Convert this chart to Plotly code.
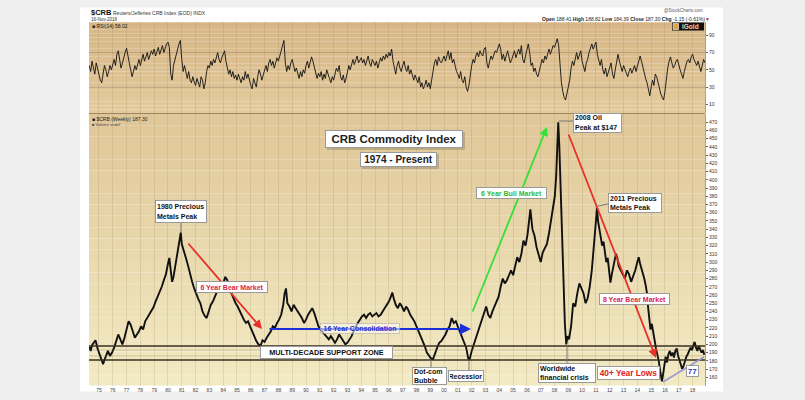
import plotly.graph_objects as go

# ---------------- data ----------------
price_points = [
    (1974.30, 197), (1974.40, 192), (1974.50, 199), (1974.60, 202), (1974.75, 205), (1974.90, 195),
    (1975.05, 188), (1975.20, 182), (1975.30, 176), (1975.40, 181), (1975.50, 186), (1975.65, 192),
    (1975.80, 186), (1975.95, 190), (1976.10, 196), (1976.25, 203), (1976.40, 212),
    (1976.55, 206), (1976.70, 200), (1976.85, 208), (1977.00, 218), (1977.15, 228),
    (1977.30, 224), (1977.45, 215), (1977.60, 208), (1977.75, 212), (1977.90, 216),
    (1978.05, 222), (1978.20, 218), (1978.35, 228), (1978.50, 232), (1978.65, 236),
    (1978.80, 240), (1978.95, 245), (1979.10, 252), (1979.25, 258), (1979.40, 262),
    (1979.55, 270), (1979.70, 278), (1979.85, 285), (1980.00, 298), (1980.10, 305),
    (1980.20, 290), (1980.30, 276), (1980.40, 282), (1980.55, 298), (1980.70, 315),
    (1980.85, 330), (1980.93, 336), (1981.00, 322), (1981.15, 312), (1981.30, 305),
    (1981.45, 296), (1981.60, 285), (1981.75, 276), (1981.90, 268), (1982.05, 260),
    (1982.20, 255), (1982.35, 250), (1982.50, 240), (1982.65, 235), (1982.80, 232),
    (1982.95, 240), (1983.10, 248), (1983.25, 252), (1983.40, 258), (1983.55, 264),
    (1983.70, 275), (1983.85, 270), (1984.00, 274), (1984.15, 282), (1984.30, 278),
    (1984.45, 268), (1984.60, 262), (1984.75, 255), (1984.90, 250), (1985.05, 246),
    (1985.20, 240), (1985.35, 236), (1985.50, 230), (1985.65, 226), (1985.80, 228),
    (1985.95, 222), (1986.10, 216), (1986.25, 208), (1986.40, 204), (1986.55, 200),
    (1986.70, 198), (1986.85, 205), (1987.00, 203), (1987.15, 208), (1987.30, 212),
    (1987.45, 216), (1987.60, 222), (1987.75, 220), (1987.90, 226), (1988.05, 230),
    (1988.20, 236), (1988.35, 248), (1988.45, 262), (1988.55, 268), (1988.65, 250),
    (1988.80, 246), (1988.95, 240), (1989.10, 248), (1989.25, 244), (1989.40, 240),
    (1989.55, 236), (1989.70, 232), (1989.85, 226), (1990.00, 230), (1990.15, 236),
    (1990.30, 240), (1990.45, 244), (1990.60, 238), (1990.75, 230), (1990.90, 222),
    (1991.05, 218), (1991.20, 215), (1991.35, 212), (1991.50, 208), (1991.65, 206),
    (1991.80, 210), (1991.95, 205), (1992.10, 202), (1992.25, 206), (1992.40, 212),
    (1992.55, 208), (1992.70, 204), (1992.85, 200), (1993.00, 202), (1993.15, 206),
    (1993.30, 210), (1993.45, 216), (1993.60, 222), (1993.75, 226), (1993.90, 230),
    (1994.05, 234), (1994.20, 236), (1994.35, 232), (1994.50, 236), (1994.65, 238),
    (1994.80, 234), (1994.95, 236), (1995.10, 238), (1995.25, 234), (1995.40, 236),
    (1995.55, 240), (1995.70, 244), (1995.85, 248), (1996.00, 252), (1996.15, 258),
    (1996.25, 263), (1996.35, 256), (1996.50, 248), (1996.65, 244), (1996.80, 250),
    (1996.95, 246), (1997.10, 240), (1997.25, 246), (1997.40, 242), (1997.55, 236),
    (1997.70, 232), (1997.85, 228), (1998.00, 222), (1998.15, 216), (1998.30, 212),
    (1998.45, 206), (1998.60, 198), (1998.75, 190), (1998.90, 186), (1999.05, 183),
    (1999.20, 182), (1999.35, 190), (1999.50, 196), (1999.65, 202), (1999.80, 204),
    (1999.95, 208), (2000.10, 212), (2000.25, 218), (2000.40, 222), (2000.55, 232),
    (2000.70, 226), (2000.85, 228), (2001.00, 222), (2001.15, 214), (2001.30, 210),
    (2001.45, 204), (2001.60, 196), (2001.75, 183), (2001.85, 182), (2002.00, 192),
    (2002.15, 200), (2002.30, 206), (2002.45, 214), (2002.60, 224), (2002.75, 232),
    (2002.90, 238), (2003.05, 246), (2003.20, 236), (2003.35, 232), (2003.50, 240),
    (2003.65, 246), (2003.80, 252), (2003.95, 258), (2004.10, 270), (2004.25, 280),
    (2004.40, 274), (2004.55, 278), (2004.70, 284), (2004.85, 290), (2005.00, 284),
    (2005.15, 296), (2005.30, 306), (2005.45, 300), (2005.60, 310), (2005.75, 326),
    (2005.90, 320), (2006.05, 334), (2006.15, 350), (2006.25, 364), (2006.40, 340),
    (2006.55, 332), (2006.70, 318), (2006.85, 308), (2007.00, 300), (2007.15, 312),
    (2007.30, 318), (2007.45, 322), (2007.60, 335), (2007.75, 350), (2007.90, 365),
    (2008.02, 380), (2008.12, 405), (2008.20, 440), (2008.27, 470), (2008.35, 440),
    (2008.45, 390), (2008.55, 330), (2008.65, 270), (2008.75, 225), (2008.85, 200),
    (2008.95, 210), (2009.05, 206), (2009.20, 222), (2009.35, 250), (2009.50, 246),
    (2009.65, 262), (2009.80, 274), (2009.95, 268), (2010.10, 262), (2010.25, 250),
    (2010.40, 256), (2010.55, 270), (2010.70, 290), (2010.85, 320), (2011.00, 345),
    (2011.08, 366), (2011.15, 350), (2011.25, 340), (2011.35, 330), (2011.45, 320),
    (2011.55, 325), (2011.65, 310), (2011.75, 300), (2011.85, 305), (2011.95, 290),
    (2012.05, 275), (2012.15, 285), (2012.30, 300), (2012.45, 310), (2012.55, 305),
    (2012.65, 295), (2012.80, 290), (2012.95, 285), (2013.10, 280), (2013.25, 290),
    (2013.40, 285), (2013.55, 276), (2013.70, 282), (2013.85, 290), (2014.00, 300),
    (2014.10, 306), (2014.20, 298), (2014.35, 290), (2014.50, 280), (2014.60, 272),
    (2014.70, 262), (2014.78, 245), (2014.86, 228), (2014.95, 218), (2015.05, 225),
    (2015.15, 212), (2015.25, 205), (2015.35, 195), (2015.45, 188), (2015.55, 180),
    (2015.65, 168), (2015.72, 160), (2015.78, 155), (2015.85, 162), (2015.95, 175),
    (2016.05, 185), (2016.15, 178), (2016.25, 188), (2016.35, 192), (2016.45, 186),
    (2016.55, 190), (2016.65, 184), (2016.75, 192), (2016.85, 195), (2016.95, 186),
    (2017.05, 180), (2017.15, 176), (2017.25, 170), (2017.35, 174), (2017.45, 180),
    (2017.55, 185), (2017.65, 188), (2017.75, 192), (2017.85, 196), (2017.95, 193),
    (2018.05, 198), (2018.15, 203), (2018.25, 196), (2018.35, 192), (2018.45, 198),
    (2018.55, 194), (2018.65, 190), (2018.75, 193), (2018.85, 187.3),
]
price_year = [p[0] for p in price_points]
price_val = [p[1] for p in price_points]

# RSI(14), sampled every 0.1 year from 1974.3
rsi_start, rsi_step = 1974.3, 0.1
rsi_val = [
    55, 48, 60, 52, 45, 58, 50,
    42, 38, 35, 45, 55, 50, 42, 48, 55, 50,
    58, 62, 55, 68, 72, 60, 52, 58, 65, 70,
    75, 68, 58, 50, 42, 48, 55, 50, 58, 62,
    55, 62, 68, 60, 65, 70, 62, 66, 72, 68,
    74, 66, 70, 76, 68, 72, 78, 70, 75, 80,
    82, 76, 45, 38, 55, 62, 70, 74, 80, 84,
    62, 48, 55, 45, 40, 48, 38, 35, 42, 36,
    32, 40, 35, 30, 42, 38, 28, 35, 48, 55,
    52, 60, 55, 62, 58, 66, 70, 62, 58, 64,
    68, 72, 60, 52, 45, 50, 42, 48, 40, 44,
    38, 45, 40, 35, 42, 38, 48, 40, 45, 38,
    32, 28, 40, 35, 30, 42, 50, 45, 38, 44,
    50, 55, 48, 58, 62, 55, 60, 52, 58, 64,
    60, 66, 72, 80, 84, 58, 48, 55, 50, 58,
    62, 55, 48, 52, 45, 40, 48, 42, 50, 46,
    55, 60, 52, 58, 65, 60, 54, 45, 40, 46,
    42, 48, 38, 45, 40, 50, 46, 40, 35, 42,
    38, 45, 52, 48, 55, 42, 38, 44, 35, 40,
    48, 55, 50, 58, 62, 56, 60, 66, 58, 62,
    64, 58, 62, 55, 60, 66, 58, 54, 62, 58,
    55, 60, 52, 58, 64, 60, 66, 62, 68, 64,
    70, 66, 74, 60, 50, 45, 55, 60, 52, 48,
    55, 60, 52, 48, 55, 45, 50, 42, 38, 44,
    40, 35, 42, 30, 35, 28, 32, 38, 30, 35,
    28, 40, 50, 58, 62, 55, 65, 60, 58, 62,
    66, 60, 68, 72, 62, 70, 58, 62, 55, 48,
    45, 40, 48, 38, 35, 42, 30, 25, 32, 45,
    55, 62, 58, 66, 70, 65, 72, 68, 66, 74,
    76, 58, 52, 60, 66, 62, 68, 72, 70, 76,
    80, 74, 62, 68, 60, 66, 72, 65, 58, 62,
    66, 72, 64, 70, 74, 68, 78, 62, 58, 66,
    72, 80, 70, 55, 58, 48, 52, 45, 42, 50,
    55, 62, 58, 66, 62, 70, 74, 68, 72, 78,
    76, 82, 86, 78, 55, 35, 25, 18, 15, 22,
    30, 38, 52, 60, 55, 64, 70, 62, 66, 72,
    60, 55, 48, 58, 62, 70, 76, 80, 74, 78,
    82, 68, 60, 55, 62, 50, 45, 52, 42, 48,
    52, 58, 45, 40, 50, 62, 68, 60, 52, 48,
    55, 50, 45, 42, 48, 52, 46, 50, 55, 48,
    55, 62, 66, 60, 52, 45, 40, 35, 25, 20,
    30, 38, 32, 45, 42, 35, 28, 22, 18, 15,
    25, 40, 52, 60, 65, 58, 52, 55, 60, 62,
    55, 50, 45, 40, 48, 55, 60, 62, 58, 65,
    68, 62, 58, 55, 60, 52, 48, 55, 62, 58,
]
rsi_year = [round(rsi_start + i * rsi_step, 3) for i in range(len(rsi_val))]

year_ticks = list(range(1975, 2019))
year_labels = ["%02d" % (y % 100) for y in year_ticks]
price_ticks = list(range(160, 480, 10))
rsi_ticks = [10, 30, 50, 70, 90]
rsi_lines = [70, 30]
support_levels = [198, 181]
zone_levels = [193, 186]

# ---------------- layout helpers ----------------
W, H = 805, 400
def px(x): return x / W
def py(y): return 1 - y / H

X0, X1 = 89, 705
RSI_T, RSI_B = 22.3, 113
MAIN_T, MAIN_B = 114, 385.5
FONT = "Arial, Liberation Sans, sans-serif"

fig = go.Figure()
fig.add_trace(go.Scatter(x=rsi_year, y=rsi_val, xaxis="x2", yaxis="y2", mode="lines",
                         line=dict(color="#111", width=0.9), hoverinfo="skip"))
fig.add_trace(go.Scatter(x=price_year, y=price_val, xaxis="x", yaxis="y", mode="lines",
                         line=dict(color="#111", width=1.9), hoverinfo="skip"))

shapes = []
# white card
shapes.append(dict(type="rect", xref="paper", yref="paper", x0=px(80), x1=px(723),
                   y0=py(391.5), y1=py(7.5), fillcolor="white", line_width=0, layer="below"))

def gradient(yt, yb, ct, cb, n=24):
    for i in range(n):
        t = i / (n - 1)
        c = tuple(round(a + (b - a) * t) for a, b in zip(ct, cb))
        shapes.append(dict(type="rect", xref="paper", yref="paper", x0=px(X0), x1=px(X1),
                           y0=py(yt + (yb - yt) * (i + 1) / n), y1=py(yt + (yb - yt) * i / n),
                           fillcolor="rgb(%d,%d,%d)" % c, line_width=0, layer="below"))

gradient(RSI_T, RSI_B, (215, 183, 135), (228, 202, 157))
gradient(MAIN_T, MAIN_B, (224, 199, 153), (242, 234, 195))

# panel separator
shapes.append(dict(type="line", xref="paper", yref="paper", x0=px(X0), x1=px(X1),
                   y0=py(113.5), y1=py(113.5), line=dict(color="#9c8560", width=1)))

for lv in rsi_lines:
    shapes.append(dict(type="line", xref="x2", yref="y2", x0=1974.28, x1=2018.9, y0=lv, y1=lv,
                       line=dict(color="rgba(90,70,40,0.4)", width=0.8)))
for lv in zone_levels:
    shapes.append(dict(type="line", xref="x", yref="y", x0=1974.28, x1=2018.9, y0=lv, y1=lv,
                       line=dict(color="rgba(120,100,70,0.35)", width=0.8)))
for lv in support_levels:
    shapes.append(dict(type="line", xref="x", yref="y", x0=1974.28, x1=2018.9, y0=lv, y1=lv,
                       line=dict(color="#3a3020", width=1.3)))

# connectors from boxes
for (xa, ya, xb, yb) in [(181, 223, 181, 233), (431, 360, 431, 367), (469, 361, 469, 370),
                         (567, 346, 567, 363), (559, 121, 573, 121), (598, 206, 608, 204)]:
    shapes.append(dict(type="line", xref="paper", yref="paper", x0=px(xa), x1=px(xb),
                       y0=py(ya), y1=py(yb), line=dict(color="#777", width=1)))

# drop shadows of the title boxes
for (bx0, by0, bx1, by1) in [(327, 132, 465, 150), (362, 154, 439, 169)]:
    shapes.append(dict(type="rect", xref="paper", yref="paper", x0=px(bx0), x1=px(bx1),
                       y0=py(by1), y1=py(by0), fillcolor="rgba(120,110,90,0.35)", line_width=0))

# 77 trendline
shapes.append(dict(type="line", xref="paper", yref="paper", x0=px(663), x1=px(704),
                   y0=py(382), y1=py(357), line=dict(color="#9a9ad2", width=1.5)))

# iGold logo
shapes.append(dict(type="rect", xref="paper", yref="paper", x0=px(672), x1=px(704),
                   y0=py(30.5), y1=py(22.5), fillcolor="#111", line_width=0))
shapes.append(dict(type="rect", xref="paper", yref="paper", x0=px(673), x1=px(678.5),
                   y0=py(29.5), y1=py(23.5), fillcolor="#e8a040", line=dict(color="white", width=0.6)))

ann = []
def text(t, x, y, size=5, color="#222", xanchor="left", yanchor="middle"):
    ann.append(dict(xref="paper", yref="paper", x=px(x), y=py(y), text=t, showarrow=False,
                    xanchor=xanchor, yanchor=yanchor, font=dict(family=FONT, size=size, color=color)))

def box(lines, cx, cy, w, h, size=7, color="#111", align="center", bg="white", border="#9a9a9a"):
    t = "<br>".join("<b>%s</b>" % l for l in lines)
    ann.append(dict(xref="paper", yref="paper", x=px(cx), y=py(cy), xanchor="center", yanchor="middle",
                    text=t, showarrow=False, align=align, valign="middle",
                    font=dict(family=FONT, size=size, color=color),
                    bgcolor=bg, bordercolor=border, borderwidth=1, borderpad=1,
                    width=w - 4, height=h - 4))

def arrow(hx, hy, tx, ty, color, width=2):
    ann.append(dict(xref="paper", yref="paper", x=px(hx), y=py(hy), ax=tx - hx, ay=ty - hy,
                    axref="pixel", ayref="pixel", text="", showarrow=True, arrowhead=2,
                    arrowsize=1, arrowwidth=width, arrowcolor=color, standoff=0, startstandoff=0))

# header
text("<b>$CRB</b>", 89, 12.5, size=7.5, color="#111")
text("Reuters/Jefferies CRB Index (EOD) INDX", 111, 12.5, size=5, color="#333")
text("16-Nov-2018", 89, 19.5, size=4.5, color="#333")
text("@StockCharts.com", 705, 11, size=4.5, color="#555", xanchor="right")
text("<b>Open</b> 188.41 <b>High</b> 188.82 <b>Low</b> 184.39 <b>Close</b> 187.30 <b>Chg</b> -1.15 (-0.61%)"
     "<span style='color:#d02020'>▼</span>", 712, 18.8, size=5, color="#222", xanchor="right")
text("■ RSI(14) 58.02", 90, 26, size=5, color="#222")
text("<b>iGold</b>", 680, 26.5, size=6.5, color="#f0d9b0")
text("■ $CRB (Weekly) 187.30", 90, 118.8, size=5, color="#222")
text("■ Volume undef", 90, 124.5, size=4, color="#444")

# arrows
arrow(262, 329, 187, 242, "#e8302a", 1.8)
arrow(471, 329, 268, 329, "#1c2ed6", 2.2)
arrow(547, 127, 472, 313, "#38e038", 1.8)
arrow(656, 358, 568, 133, "#e8302a", 1.8)

# boxes
box(["CRB Commodity Index"], 394, 139, 138, 18, size=11.5, color="#222")
box(["1974 - Present"], 398.5, 159.5, 77, 15, size=10, color="#222")
box(["1980 Precious", "Metals Peak"], 181, 211.5, 52, 23, size=7, align="left")
box(["6 Year Bear Market"], 232, 287, 72, 12, size=7, color="#d81e48")
box(["16 Year Consolidation"], 360, 328.5, 80, 11, size=7, color="#1c2ed6",
    bg="rgba(255,255,255,0.55)", border="rgba(160,160,160,0.5)")
box(["MULTI-DECADE SUPPORT ZONE"], 326.5, 352.5, 133, 13, size=7.3)
box(["Dot-com", "Bubble"], 429.5, 375.5, 35, 18, size=7, align="left")
box(["Recession"], 465.5, 375.5, 36, 12, size=7)
box(["Worldwide", "financial crisis"], 566.5, 372.5, 58, 20, size=7, align="left")
box(["40+ Year Lows"], 628.5, 373, 63, 14, size=8.3, color="#e02020")
box(["8 Year Bear Market"], 634.5, 299, 71, 12, size=7, color="#d81e48")
box(["2008 Oil", "Peak at $147"], 597.5, 123, 49, 20, size=7, align="left")
box(["2011 Precious", "Metals Peak"], 635, 202.5, 54, 20, size=7, align="left")
box(["6 Year Bull Market"], 511.5, 193, 71, 12, size=7, color="#2fb82f")
box(["77"], 692.5, 370.5, 13, 12, size=8, color="#3040c8")

axis_common = dict(range=[1974.28, 2018.9], domain=[px(X0), px(X1)], showgrid=True,
                   gridcolor="rgba(150,120,70,0.18)", gridwidth=1, zeroline=False,
                   tickvals=year_ticks, ticktext=year_labels, showline=False, ticks="")

fig.update_layout(
    width=W, height=H, margin=dict(l=0, r=0, t=0, b=0),
    paper_bgcolor="#efefef", plot_bgcolor="rgba(0,0,0,0)", showlegend=False,
    xaxis=dict(**axis_common, anchor="y", tickfont=dict(family=FONT, size=5, color="#444")),
    xaxis2=dict(**axis_common, anchor="y2", matches="x", showticklabels=False),
    yaxis=dict(domain=[py(MAIN_B), py(MAIN_T)], range=[150, 480], side="right", anchor="x",
               tickvals=price_ticks, ticks="outside", ticklen=2, tickcolor="#666",
               tickfont=dict(family=FONT, size=5, color="#333"), showgrid=False, zeroline=False,
               showline=True, linecolor="#b0a080", linewidth=1),
    yaxis2=dict(domain=[py(RSI_B), py(RSI_T)], range=[0, 105], side="right", anchor="x2",
                tickvals=rsi_ticks, ticks="outside", ticklen=2, tickcolor="#666",
                tickfont=dict(family=FONT, size=5, color="#333"), showgrid=False, zeroline=False,
                showline=True, linecolor="#b0a080", linewidth=1),
    shapes=shapes, annotations=ann,
)

fig.write_html("out.html")
